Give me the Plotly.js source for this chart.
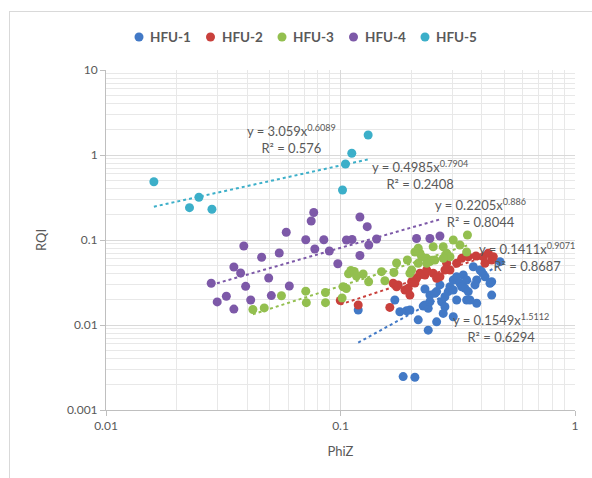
<!DOCTYPE html>
<html>
<head>
<meta charset="utf-8">
<script src="https://cdn.plot.ly/plotly-3.0.1.min.js"></script>
<style>
  html, body { margin: 0; padding: 0; background: #ffffff; }
  #wrap { position: relative; width: 592px; height: 478px; overflow: hidden; }
  #chart { width: 592px; height: 478px; }
  #frame {
    position: absolute; left: 9px; top: 11px; width: 640px; height: 520px;
    border-left: 1px solid #d9d9d9; border-top: 1px solid #d9d9d9;
    pointer-events: none;
  }
</style>
</head>
<body>
<div id="wrap">
  <div id="chart"></div>
  <div id="frame"></div>
</div>
<script>
// Series names
const seriesNames = ['HFU-1', 'HFU-2', 'HFU-3', 'HFU-4', 'HFU-5'];

// HFU-1
const phiZ1 = [0.119, 0.1705, 0.1791, 0.1913, 0.2145, 0.2253, 0.2366, 0.257, 0.2366, 0.2406,
  0.2291, 0.257, 0.27, 0.2788, 0.2655, 0.288, 0.2788, 0.2929, 0.3026, 0.3129,
  0.3231, 0.3338, 0.3451, 0.3394, 0.3451, 0.3683, 0.3808, 0.3999, 0.4413, 0.4787,
  0.185, 0.2076, 0.1977, 0.2291, 0.2406, 0.2527, 0.3026, 0.3129, 0.3286, 0.3506,
  0.3744, 0.3808, 0.3934, 0.4132, 0.4341, 0.4413, 0.2742, 0.3026, 0.3565];
const rqi1 = [0.0150, 0.0197, 0.0143, 0.0147, 0.0115, 0.0167, 0.0087, 0.0109, 0.0157, 0.0225,
  0.0265, 0.0247, 0.0188, 0.0164, 0.0296, 0.0247, 0.0215, 0.0282, 0.0338, 0.0370,
  0.0310, 0.0388, 0.0338, 0.0270, 0.0197, 0.0485, 0.0338, 0.0424, 0.0323, 0.0556,
  0.00247, 0.00243, 0.0150, 0.0172, 0.0188, 0.0236, 0.0258, 0.0197, 0.0282, 0.0247,
  0.0296, 0.0180, 0.0444, 0.0370, 0.0310, 0.0225, 0.0137, 0.0125, 0.0197];

// HFU-2
const phiZ2 = [0.0998, 0.119, 0.1623, 0.1677, 0.1762, 0.1882, 0.1944, 0.201, 0.2111, 0.2182,
  0.2291, 0.2331, 0.2485, 0.2655, 0.2836, 0.2929, 0.3129, 0.3286, 0.3506, 0.4064,
  0.4268, 0.4484, 0.4413, 0.4132, 0.1977, 0.1734, 0.2076, 0.257, 0.2788, 0.3451, 0.3782];
const rqi2 = [0.0194, 0.0172, 0.0161, 0.0310, 0.0296, 0.0258, 0.0270, 0.0323, 0.0355, 0.0406,
  0.0388, 0.0444, 0.0406, 0.0370, 0.0532, 0.0444, 0.0532, 0.0609, 0.0636, 0.0636,
  0.0698, 0.0636, 0.0582, 0.0532, 0.0225, 0.0282, 0.0312, 0.0355, 0.0444, 0.0666, 0.0648];

// HFU-3
const phiZ3 = [0.0423, 0.0473, 0.056, 0.0711, 0.0715, 0.0863, 0.0863, 0.1016, 0.1059, 0.1082,
  0.1107, 0.1145, 0.1249, 0.1318, 0.1496, 0.1546, 0.169, 0.1734, 0.1928, 0.1977,
  0.2145, 0.2182, 0.2145, 0.2331, 0.2406, 0.2485, 0.2742, 0.2836, 0.2929, 0.3026,
  0.3231, 0.3478, 0.3451, 0.2076, 0.2218, 0.2527, 0.2742, 0.201, 0.2331, 0.1026, 0.117];
const rqi3 = [0.0152, 0.0159, 0.0221, 0.0250, 0.0183, 0.0241, 0.0183, 0.0208, 0.0269, 0.0401,
  0.0438, 0.0426, 0.0398, 0.0323, 0.0424, 0.0332, 0.0415, 0.0536, 0.0582, 0.0406,
  0.0799, 0.0698, 0.0532, 0.0609, 0.0556, 0.0834, 0.0834, 0.0698, 0.0636, 0.1000,
  0.0873, 0.1145, 0.0722, 0.0722, 0.0636, 0.0582, 0.0609, 0.0444, 0.0532, 0.0282, 0.0377];

// HFU-4
const phiZ4 = [0.0281, 0.0298, 0.0326, 0.0351, 0.0351, 0.0375, 0.0387, 0.0394, 0.0414, 0.0461,
  0.0494, 0.0507, 0.0548, 0.0587, 0.0605, 0.0711, 0.0750, 0.0769, 0.0777, 0.0849,
  0.0896, 0.0974, 0.106, 0.112, 0.121, 0.121, 0.130, 0.132, 0.1425, 0.211, 0.2406, 0.2655];
const rqi4 = [0.0310, 0.0187, 0.0218, 0.0154, 0.0481, 0.0409, 0.0850, 0.0285, 0.0197, 0.0626,
  0.0357, 0.0222, 0.0703, 0.1232, 0.0288, 0.1008, 0.1674, 0.2107, 0.0784, 0.1008,
  0.0742, 0.0526, 0.1000, 0.1014, 0.1865, 0.0657, 0.1434, 0.0873, 0.1027, 0.1041, 0.1041, 0.1115];

// HFU-5
const phiZ5 = [0.0160, 0.0249, 0.0227, 0.0283, 0.102, 0.105, 0.1117, 0.1312];
const rqi5 = [0.485, 0.318, 0.240, 0.230, 0.388, 0.784, 1.047, 1.72];

// Power-law trendlines y = a * x^b and their R²
const trendA = [0.1549, 0.1411, 0.2205, 0.4985, 3.059];
const trendB = [1.5112, 0.9071, 0.886, 0.7904, 0.6089];
const trendR2 = [0.6294, 0.8687, 0.8044, 0.2408, 0.576];

// Axis ticks
const xTickVals = [0.01, 0.1, 1];
const xTickText = ['0.01', '0.1', '1'];
const yTickVals = [0.001, 0.01, 0.1, 1, 10];
const yTickText = ['0.001', '0.01', '0.1', '1', '10'];

const colors = ['#4279c6', '#c9403c', '#93bf4f', '#7d59a8', '#3cafc9'];
const xs = [phiZ1, phiZ2, phiZ3, phiZ4, phiZ5];
const ys = [rqi1, rqi2, rqi3, rqi4, rqi5];

// Plot area in pixels (matches the layout margins below)
const W = 592, H = 478;
const M = { l: 106, r: 17, t: 70, b: 68 };
const plotW = W - M.l - M.r, plotH = H - M.t - M.b;
const px2paperX = p => (p - M.l) / plotW;
const px2paperY = p => (H - M.b - p) / plotH;

// Trendline label centres, in pixels
const labelPx = [
  [501, 328],
  [527, 257],
  [480, 213],
  [420, 175],
  [291, 139]
];

const font = 'Lato, "Open Sans", "DejaVu Sans", sans-serif';
const grey = '#595959';

const traces = [];
for (let i = 0; i < 5; i++) {
  traces.push({
    type: 'scatter', mode: 'markers', name: seriesNames[i],
    x: xs[i], y: ys[i],
    marker: { color: colors[i], size: 9, line: { width: 0 } },
    hoverinfo: 'x+y+name'
  });
}
for (let i = 0; i < 5; i++) {
  const x0 = Math.min(...xs[i]);
  const x1 = Math.max(...xs[i]);
  traces.push({
    type: 'scatter', mode: 'lines', showlegend: false, hoverinfo: 'skip',
    x: [x0, x1],
    y: [trendA[i] * Math.pow(x0, trendB[i]), trendA[i] * Math.pow(x1, trendB[i])],
    line: { color: colors[i], width: 2, dash: 'dot' }
  });
}

const annotations = [];
const shapes = [];
for (let i = 0; i < 5; i++) {
  annotations.push({
    xref: 'paper', yref: 'paper',
    x: px2paperX(labelPx[i][0]), y: px2paperY(labelPx[i][1]),
    xanchor: 'center', yanchor: 'middle', showarrow: false, align: 'center',
    text: 'y = ' + trendA[i] + 'x<sup>' + trendB[i] + '</sup><br>R² = ' + trendR2[i],
    font: { family: font, size: 13, color: grey }
  });
}

// Legend row across the top: a dot and a bold name for each series
const legendY = 37, legendX0 = 139, legendStep = 71.5, dotR = 4.5;
for (let i = 0; i < 5; i++) {
  const cx = legendX0 + legendStep * i;
  shapes.push({
    type: 'circle', xref: 'paper', yref: 'paper',
    x0: px2paperX(cx - dotR), x1: px2paperX(cx + dotR),
    y0: px2paperY(legendY + dotR), y1: px2paperY(legendY - dotR),
    fillcolor: colors[i], line: { width: 0 }
  });
  annotations.push({
    xref: 'paper', yref: 'paper',
    x: px2paperX(cx + 9), y: px2paperY(legendY),
    xanchor: 'left', yanchor: 'middle', showarrow: false,
    text: '<b>' + seriesNames[i] + '</b>',
    font: { family: font, size: 13.5, color: grey }
  });
}

const axisCommon = {
  type: 'log', tickmode: 'array',
  showline: true, linecolor: '#bfbfbf', linewidth: 1,
  ticks: 'outside', ticklen: 5, tickcolor: '#bfbfbf', tickwidth: 1,
  showgrid: true, gridcolor: '#d9d9d9', gridwidth: 1,
  minor: { dtick: 'D1', showgrid: true, gridcolor: '#e8e8e8', gridwidth: 1, ticks: '' },
  zeroline: false, automargin: false,
  tickfont: { family: font, size: 12, color: grey }
};

const layout = {
  width: W, height: H,
  margin: M,
  paper_bgcolor: '#ffffff', plot_bgcolor: '#ffffff',
  showlegend: false,
  xaxis: Object.assign({}, axisCommon, {
    range: [-2, 0], tickvals: xTickVals, ticktext: xTickText,
    title: { text: 'PhiZ', font: { family: font, size: 13, color: grey }, standoff: 14 }
  }),
  yaxis: Object.assign({}, axisCommon, {
    range: [-3, 1], tickvals: yTickVals, ticktext: yTickText,
    title: { text: 'RQI', font: { family: font, size: 13, color: grey }, standoff: 17 }
  }),
  annotations: annotations,
  shapes: shapes
};

Plotly.newPlot('chart', traces, layout, { displayModeBar: false, staticPlot: true });
</script>
</body>
</html>
